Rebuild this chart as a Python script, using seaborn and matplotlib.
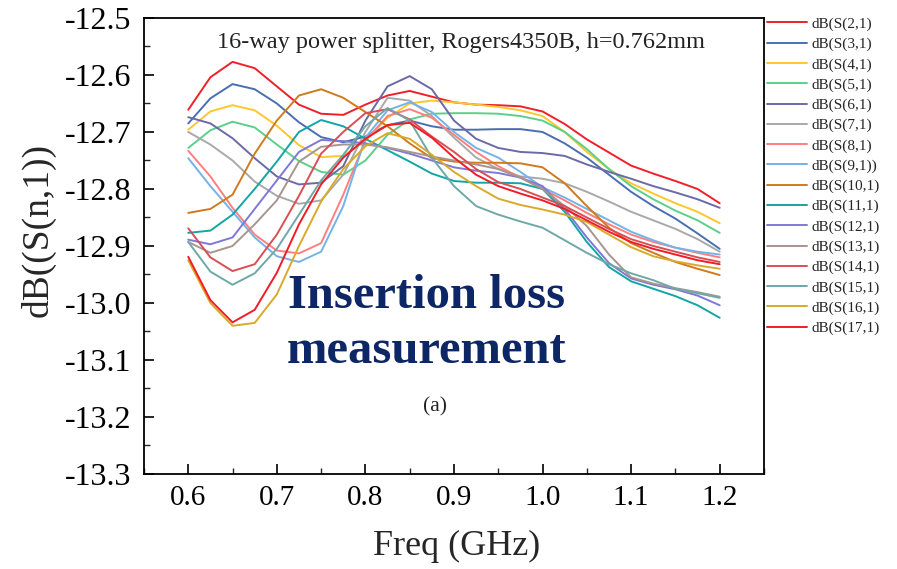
import numpy as np
import pandas as pd
import matplotlib
matplotlib.use("Agg")
import matplotlib.pyplot as plt
import seaborn as sns
from matplotlib.ticker import MultipleLocator

# ---------------- data ----------------
freq = [0.6, 0.625, 0.65, 0.675, 0.7, 0.725, 0.75, 0.775, 0.8, 0.825, 0.85, 0.875,
        0.9, 0.925, 0.95, 0.975, 1.0, 1.025, 1.05, 1.075, 1.1, 1.125, 1.15, 1.175, 1.2]

s2 = [-12.661, -12.604, -12.577, -12.588, -12.620, -12.652, -12.668, -12.670, -12.652, -12.636, -12.628, -12.638,
      -12.648, -12.652, -12.653, -12.655, -12.664, -12.686, -12.713, -12.736, -12.759, -12.773, -12.786, -12.800, -12.825]
s3 = [-12.685, -12.641, -12.616, -12.625, -12.650, -12.683, -12.709, -12.718, -12.708, -12.688, -12.680, -12.690,
      -12.696, -12.696, -12.695, -12.695, -12.700, -12.720, -12.745, -12.775, -12.805, -12.830, -12.852, -12.878, -12.905]
s4 = [-12.696, -12.664, -12.653, -12.662, -12.689, -12.723, -12.744, -12.742, -12.715, -12.675, -12.650, -12.645,
      -12.648, -12.652, -12.656, -12.662, -12.672, -12.700, -12.735, -12.765, -12.790, -12.808, -12.825, -12.840, -12.860]
s5 = [-12.728, -12.697, -12.682, -12.692, -12.722, -12.751, -12.770, -12.775, -12.750, -12.705, -12.678, -12.668,
      -12.667, -12.667, -12.668, -12.672, -12.680, -12.700, -12.730, -12.765, -12.795, -12.818, -12.838, -12.855, -12.877]
s6 = [-12.674, -12.685, -12.711, -12.746, -12.778, -12.792, -12.789, -12.760, -12.680, -12.620, -12.602, -12.625,
      -12.680, -12.712, -12.728, -12.735, -12.737, -12.742, -12.757, -12.770, -12.782, -12.795, -12.806, -12.818, -12.833]
s7 = [-12.700, -12.722, -12.750, -12.787, -12.812, -12.826, -12.820, -12.775, -12.700, -12.640, -12.645, -12.672,
      -12.710, -12.745, -12.765, -12.778, -12.782, -12.790, -12.805, -12.822, -12.840, -12.855, -12.870, -12.888, -12.910]
s8 = [-12.733, -12.778, -12.833, -12.880, -12.908, -12.913, -12.895, -12.810, -12.715, -12.672, -12.660, -12.675,
      -12.705, -12.735, -12.760, -12.780, -12.800, -12.820, -12.842, -12.862, -12.880, -12.893, -12.903, -12.912, -12.920]
s9 = [-12.746, -12.795, -12.840, -12.885, -12.918, -12.928, -12.910, -12.830, -12.710, -12.662, -12.648, -12.665,
      -12.700, -12.728, -12.745, -12.770, -12.797, -12.815, -12.835, -12.855, -12.875, -12.890, -12.903, -12.910, -12.915]
s10 = [-12.842, -12.835, -12.810, -12.738, -12.680, -12.636, -12.625, -12.640, -12.665, -12.690, -12.720, -12.746,
       -12.752, -12.754, -12.754, -12.755, -12.762, -12.790, -12.830, -12.868, -12.895, -12.912, -12.928, -12.940, -12.951]
s11 = [-12.877, -12.873, -12.845, -12.800, -12.752, -12.700, -12.679, -12.690, -12.712, -12.732, -12.752, -12.773,
       -12.786, -12.789, -12.789, -12.790, -12.800, -12.840, -12.893, -12.937, -12.962, -12.975, -12.988, -13.004, -13.026]
s12 = [-12.889, -12.897, -12.885, -12.835, -12.785, -12.735, -12.714, -12.716, -12.720, -12.728, -12.738, -12.750,
       -12.762, -12.768, -12.772, -12.780, -12.795, -12.835, -12.885, -12.930, -12.957, -12.968, -12.976, -12.987, -13.004]
s13 = [-12.893, -12.912, -12.900, -12.862, -12.820, -12.752, -12.726, -12.722, -12.722, -12.727, -12.735, -12.743,
       -12.750, -12.757, -12.765, -12.780, -12.800, -12.830, -12.865, -12.915, -12.955, -12.966, -12.974, -12.981, -12.989]
s14 = [-12.869, -12.920, -12.944, -12.932, -12.880, -12.812, -12.738, -12.700, -12.667, -12.660, -12.678, -12.708,
       -12.735, -12.765, -12.788, -12.800, -12.815, -12.830, -12.850, -12.870, -12.888, -12.900, -12.910, -12.920, -12.928]
s15 = [-12.893, -12.945, -12.968, -12.948, -12.905, -12.845, -12.785, -12.740, -12.690, -12.658, -12.680, -12.745,
       -12.795, -12.830, -12.845, -12.857, -12.868, -12.890, -12.912, -12.932, -12.948, -12.960, -12.975, -12.983, -12.991]
s16 = [-12.925, -13.000, -13.040, -13.035, -12.985, -12.900, -12.822, -12.765, -12.725, -12.702, -12.712, -12.740,
       -12.770, -12.795, -12.817, -12.828, -12.836, -12.845, -12.858, -12.880, -12.902, -12.918, -12.927, -12.934, -12.940]
s17 = [-12.919, -12.995, -13.034, -13.012, -12.947, -12.862, -12.792, -12.745, -12.712, -12.688, -12.684, -12.710,
       -12.745, -12.775, -12.795, -12.808, -12.820, -12.835, -12.855, -12.875, -12.893, -12.905, -12.915, -12.925, -12.932]

labels = ["dB(S(2,1)", "dB(S(3,1)", "dB(S(4,1)", "dB(S(5,1)", "dB(S(6,1)", "dB(S(7,1)",
          "dB(S(8,1)", "dB(S(9,1))", "dB(S(10,1)", "dB(S(11,1)", "dB(S(12,1)", "dB(S(13,1)",
          "dB(S(14,1)", "dB(S(15,1)", "dB(S(16,1)", "dB(S(17,1)"]
series = [s2, s3, s4, s5, s6, s7, s8, s9, s10, s11, s12, s13, s14, s15, s16, s17]
colors = ["#f0202a", "#4a6fb0", "#ffc72c", "#5cd08a", "#6b69a8", "#a9a9a9",
          "#ff7f7f", "#74b3e8", "#d07a1e", "#14a5a5", "#7f78d6", "#a8958f",
          "#d94f55", "#6fa8a8", "#d9a92a", "#f01c28"]

xticks = [0.6, 0.7, 0.8, 0.9, 1.0, 1.1, 1.2]
yticks = [-12.5, -12.6, -12.7, -12.8, -12.9, -13.0, -13.1, -13.2, -13.3]

# ---------------- build long table ----------------
rows = []
for lab, vals in zip(labels, series):
    for f, v in zip(freq, vals):
        rows.append((lab, f, v))
df = pd.DataFrame(rows, columns=["series", "freq", "val"])

sns.set_style("ticks")
plt.rcParams["font.family"] = ["Liberation Serif", "DejaVu Serif"]

fig = plt.figure(figsize=(8.97, 5.69), dpi=100)
ax = fig.add_axes([0.1605, 0.1670, 0.6912, 0.8014])

sns.lineplot(data=df, x="freq", y="val", hue="series", hue_order=labels,
             palette=colors, linewidth=1.4, estimator=None, sort=False, ax=ax)

ax.set_xlim(0.55, 1.25)
ax.set_ylim(-13.3, -12.5)
ax.set_xticks(xticks)
ax.set_xticklabels([f"{t:.1f}" for t in xticks])
ax.set_yticks(yticks)
ax.set_yticklabels([f"{t:.1f}" for t in yticks])
ax.xaxis.set_minor_locator(MultipleLocator(0.05))
ax.yaxis.set_minor_locator(MultipleLocator(0.05))
ax.tick_params(which="major", direction="in", length=7, width=1.2,
               top=False, right=False, pad=8, colors="black")
ax.tick_params(axis="x", labelsize=21)
ax.tick_params(axis="y", labelsize=23, pad=9)
ax.tick_params(which="minor", direction="in", length=4, width=1.0, top=False, right=False)
for sp in ax.spines.values():
    sp.set_linewidth(1.3)
    sp.set_color("black")

ax.set_xlabel("Freq (GHz)", fontsize=26)
ax.xaxis.set_label_coords(0.505, -0.122)
ax.set_ylabel("dB((S(n,1))", fontsize=27)
ax.yaxis.set_label_coords(-0.143, 0.535)

ax.text(0.511, 0.934, "16-way power splitter, Rogers4350B, h=0.762mm",
        transform=ax.transAxes, ha="center", va="baseline", fontsize=17.5, color="#222222")
ax.text(0.455, 0.364, "Insertion loss", transform=ax.transAxes, ha="center", va="baseline",
        fontsize=35, fontweight="bold", color="#0d2766")
ax.text(0.455, 0.243, "measurement", transform=ax.transAxes, ha="center", va="baseline",
        fontsize=35, fontweight="bold", color="#0d2766")
ax.text(0.470, 0.147, "(a)", transform=ax.transAxes, ha="center", va="center",
        fontsize=15.5, color="#222222")

handles, labs = ax.get_legend_handles_labels()
ax.legend(handles, labs, loc="upper left", bbox_to_anchor=(0.855, 0.970),
          bbox_transform=fig.transFigure, frameon=False, fontsize=11,
          handlelength=2.6, handletextpad=0.3, labelspacing=0.42,
          borderpad=0, borderaxespad=0)

fig.savefig("out.png", dpi=100)
